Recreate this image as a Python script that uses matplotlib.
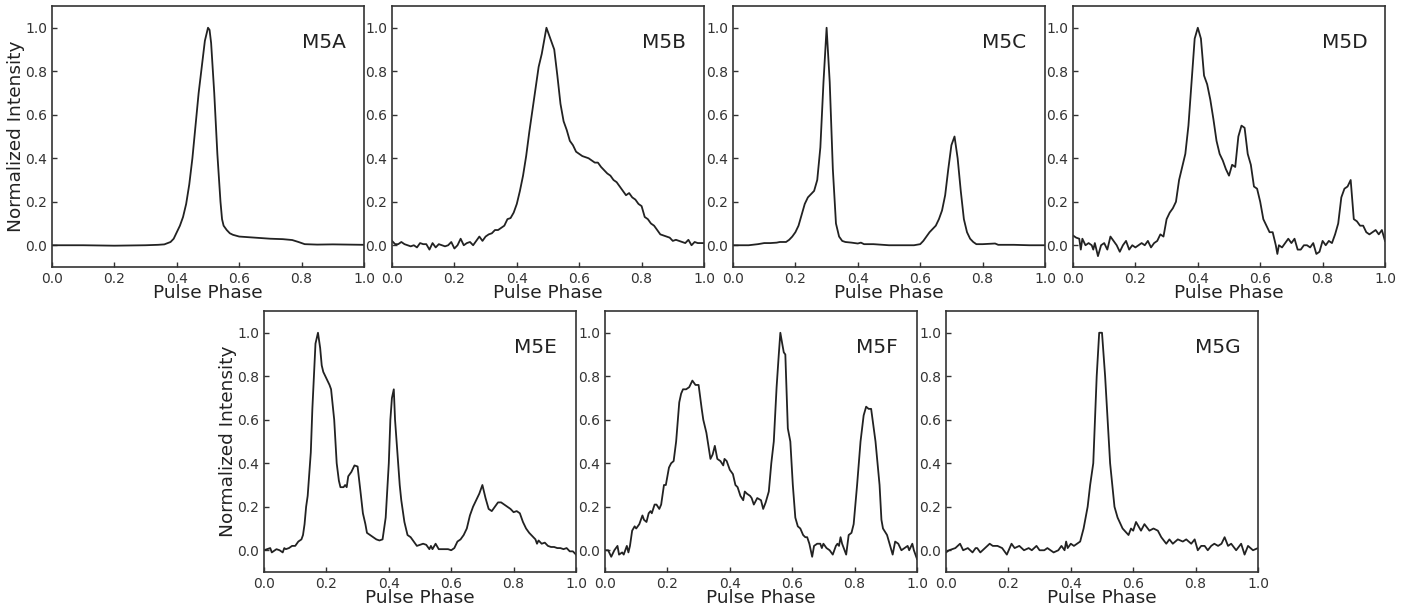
import numpy as np
import matplotlib.pyplot as plt

#%% PROFILES (phase, normalized intensity)

phase_a = [0.0, 0.1, 0.2, 0.3, 0.34, 0.36, 0.38, 0.39, 0.40, 0.41, 0.42, 0.43, 0.44, 0.45, 0.46,
           0.47, 0.48, 0.49, 0.50, 0.505, 0.51, 0.52, 0.53, 0.54, 0.545, 0.55, 0.56, 0.57, 0.58,
           0.60, 0.65, 0.70, 0.74, 0.77, 0.79, 0.81, 0.85, 0.90, 1.0]
prof_a = [0.0, 0.0, -0.002, 0.0, 0.002, 0.004, 0.015, 0.03, 0.06, 0.09, 0.13, 0.19, 0.28, 0.40, 0.55,
          0.70, 0.82, 0.94, 1.0, 0.99, 0.93, 0.70, 0.42, 0.2, 0.12, 0.09, 0.07, 0.055, 0.048,
          0.04, 0.035, 0.03, 0.028, 0.024, 0.015, 0.005, 0.003, 0.004, 0.002]

phase_b = [0.0, 0.01, 0.02, 0.03, 0.04, 0.05, 0.06, 0.07, 0.08, 0.09, 0.10, 0.11, 0.12, 0.13, 0.14,
           0.15, 0.16, 0.17, 0.18, 0.19, 0.20, 0.21, 0.22, 0.23, 0.24, 0.25, 0.26, 0.27, 0.28, 0.29,
           0.30, 0.31, 0.32, 0.33, 0.34, 0.35, 0.36, 0.37, 0.38, 0.39, 0.40, 0.41, 0.42, 0.43, 0.44,
           0.45, 0.46, 0.47, 0.48, 0.49, 0.495, 0.50, 0.51, 0.52, 0.53, 0.54, 0.55, 0.56, 0.57, 0.58,
           0.59, 0.60, 0.61, 0.62, 0.63, 0.64, 0.65, 0.66, 0.67, 0.68, 0.69, 0.70, 0.71, 0.72, 0.73,
           0.74, 0.75, 0.76, 0.77, 0.78, 0.79, 0.80, 0.81, 0.82, 0.83, 0.84, 0.85, 0.86, 0.87, 0.88,
           0.89, 0.90, 0.91, 0.92, 0.93, 0.94, 0.95, 0.96, 0.97, 0.98, 0.99, 1.0]
prof_b = [0.02, 0.005, 0.005, 0.015, 0.005, 0.0, -0.005, 0.0, -0.01, 0.01, 0.005, 0.005, -0.02, 0.01, -0.01,
          0.005, 0.0, -0.005, 0.0, 0.015, -0.015, 0.0, 0.03, 0.0, 0.01, 0.015, 0.0, 0.02, 0.04, 0.02,
          0.04, 0.05, 0.055, 0.07, 0.07, 0.08, 0.09, 0.12, 0.125, 0.15, 0.19, 0.25, 0.32, 0.41, 0.52,
          0.62, 0.72, 0.82, 0.88, 0.96, 1.0, 0.98, 0.94, 0.9, 0.78, 0.65, 0.57, 0.53, 0.48, 0.46,
          0.43, 0.42, 0.41, 0.405, 0.40, 0.39, 0.38, 0.38, 0.36, 0.345, 0.33, 0.32, 0.30, 0.29, 0.27,
          0.25, 0.23, 0.24, 0.22, 0.21, 0.19, 0.18, 0.13, 0.12, 0.10, 0.09, 0.07, 0.05, 0.045, 0.04,
          0.035, 0.02, 0.025, 0.02, 0.015, 0.01, 0.025, 0.0, 0.015, 0.01, 0.01, 0.01]

phase_c = [0.0, 0.05, 0.08, 0.10, 0.12, 0.14, 0.15, 0.17, 0.18, 0.19, 0.20, 0.21, 0.22, 0.23, 0.24,
           0.25, 0.26, 0.27, 0.28, 0.29, 0.30, 0.31, 0.32, 0.33, 0.34, 0.35, 0.36, 0.38, 0.40, 0.41,
           0.42, 0.45, 0.50, 0.55, 0.58, 0.60, 0.61, 0.62, 0.63, 0.64, 0.65, 0.66, 0.67, 0.68, 0.69,
           0.70, 0.71, 0.72, 0.73, 0.74, 0.75, 0.76, 0.77, 0.78, 0.80, 0.84, 0.85, 0.90, 0.95, 1.0]
prof_c = [0.0, 0.0, 0.005, 0.01, 0.01, 0.012, 0.015, 0.015, 0.025, 0.04, 0.06, 0.09, 0.14, 0.19, 0.22,
          0.235, 0.25, 0.30, 0.45, 0.75, 1.0, 0.75, 0.35, 0.10, 0.04, 0.02, 0.015, 0.012, 0.008, 0.012,
          0.005, 0.005, 0.0, 0.0, 0.0, 0.005, 0.02, 0.04, 0.06, 0.075, 0.09, 0.12, 0.16, 0.23, 0.35,
          0.46, 0.50, 0.40, 0.25, 0.12, 0.06, 0.03, 0.015, 0.005, 0.005, 0.008, 0.002, 0.002, 0.0, 0.0]

phase_d = [0.0, 0.01, 0.02, 0.025, 0.03, 0.04, 0.05, 0.06, 0.065, 0.07, 0.08, 0.09, 0.10, 0.11, 0.12,
           0.13, 0.14, 0.15, 0.16, 0.17, 0.18, 0.19, 0.20, 0.21, 0.22, 0.23, 0.24, 0.25, 0.26, 0.27,
           0.28, 0.29, 0.30, 0.31, 0.32, 0.33, 0.34, 0.35, 0.36, 0.37, 0.38, 0.39, 0.40, 0.41, 0.42,
           0.43, 0.44, 0.45, 0.46, 0.47, 0.48, 0.49, 0.50, 0.51, 0.52, 0.53, 0.54, 0.55, 0.56, 0.57,
           0.58, 0.59, 0.60, 0.61, 0.62, 0.63, 0.64, 0.65, 0.655, 0.66, 0.67, 0.68, 0.69, 0.70, 0.71,
           0.72, 0.73, 0.74, 0.75, 0.76, 0.77, 0.78, 0.79, 0.80, 0.81, 0.82, 0.83, 0.84, 0.85, 0.86,
           0.87, 0.88, 0.89, 0.90, 0.91, 0.92, 0.93, 0.94, 0.95, 0.96, 0.97, 0.98, 0.99, 1.0]
prof_d = [0.045, 0.035, 0.03, -0.02, 0.03, 0.0, 0.01, 0.0, -0.02, 0.01, -0.05, 0.0, 0.01, -0.02, 0.04,
          0.02, 0.0, -0.03, 0.0, 0.02, -0.02, 0.0, -0.01, 0.0, 0.01, 0.0, 0.02, -0.01, 0.01, 0.02,
          0.05, 0.04, 0.12, 0.15, 0.17, 0.20, 0.30, 0.36, 0.42, 0.55, 0.75, 0.95, 1.0, 0.95, 0.78,
          0.74, 0.67, 0.58, 0.48, 0.42, 0.39, 0.35, 0.32, 0.37, 0.36, 0.50, 0.55, 0.54, 0.42, 0.37,
          0.27, 0.26, 0.20, 0.12, 0.09, 0.06, 0.06, 0.0, -0.04, 0.0, -0.01, 0.01, 0.03, 0.01, 0.03,
          -0.02, -0.02, 0.0, 0.0, -0.01, 0.01, -0.04, -0.03, 0.02, 0.0, 0.02, 0.01, 0.05, 0.10, 0.22,
          0.26, 0.27, 0.30, 0.12, 0.11, 0.09, 0.09, 0.06, 0.05, 0.06, 0.07, 0.05, 0.07, 0.02]

phase_e = [0.0, 0.01, 0.02, 0.025, 0.03, 0.04, 0.05, 0.06, 0.065, 0.07, 0.08, 0.09, 0.10, 0.11, 0.12,
           0.125, 0.13, 0.135, 0.14, 0.145, 0.15, 0.155, 0.16, 0.165, 0.173, 0.18, 0.185, 0.19, 0.20, 0.21,
           0.215, 0.225, 0.233, 0.24, 0.245, 0.255, 0.26, 0.265, 0.27, 0.28, 0.29, 0.30, 0.31, 0.317, 0.325,
           0.33, 0.34, 0.35, 0.36, 0.37, 0.38, 0.385, 0.39, 0.40, 0.405, 0.41, 0.416, 0.42, 0.43, 0.435,
           0.44, 0.45, 0.46, 0.47, 0.48, 0.49, 0.50, 0.51, 0.52, 0.53, 0.535, 0.54, 0.55, 0.56, 0.57,
           0.58, 0.59, 0.60, 0.61, 0.62, 0.63, 0.64, 0.65, 0.66, 0.67, 0.68, 0.69, 0.70, 0.71, 0.72,
           0.73, 0.74, 0.75, 0.76, 0.77, 0.78, 0.79, 0.80, 0.81, 0.82, 0.83, 0.84, 0.85, 0.86, 0.87,
           0.875, 0.88, 0.89, 0.90, 0.91, 0.92, 0.93, 0.94, 0.95, 0.96, 0.97, 0.98, 0.99, 1.0]
prof_e = [0.0, 0.005, 0.01, -0.01, -0.005, 0.005, 0.0, -0.01, 0.01, 0.005, 0.01, 0.02, 0.02, 0.04, 0.05,
          0.07, 0.12, 0.2, 0.25, 0.35, 0.45, 0.65, 0.8, 0.95, 1.0, 0.93, 0.85, 0.82, 0.79, 0.76,
          0.74, 0.6, 0.4, 0.32, 0.29, 0.29, 0.3, 0.29, 0.34, 0.36, 0.39, 0.385, 0.26, 0.17, 0.12,
          0.08, 0.07, 0.06, 0.05, 0.045, 0.05, 0.1, 0.15, 0.4, 0.6, 0.7, 0.74, 0.6, 0.4, 0.3,
          0.23, 0.13, 0.07, 0.06, 0.04, 0.02, 0.025, 0.03, 0.025, 0.005, 0.02, 0.005, 0.03, 0.005, 0.005,
          0.005, 0.005, 0.0, 0.01, 0.04, 0.05, 0.07, 0.1, 0.16, 0.2, 0.23, 0.26, 0.3, 0.24, 0.19,
          0.18, 0.2, 0.22, 0.22, 0.21, 0.2, 0.19, 0.175, 0.18, 0.17, 0.13, 0.1, 0.08, 0.065, 0.05,
          0.03, 0.045, 0.03, 0.035, 0.02, 0.015, 0.015, 0.01, 0.01, 0.005, 0.01, -0.005, -0.005, -0.02]

phase_f = [0.0, 0.01, 0.02, 0.03, 0.04, 0.045, 0.055, 0.06, 0.07, 0.075, 0.08, 0.087, 0.095, 0.10, 0.11,
           0.12, 0.125, 0.133, 0.14, 0.146, 0.15, 0.159, 0.165, 0.174, 0.18, 0.189, 0.195, 0.205, 0.212, 0.22,
           0.228, 0.238, 0.244, 0.25, 0.26, 0.27, 0.28, 0.285, 0.29, 0.30, 0.31, 0.315, 0.325, 0.338, 0.345,
           0.352, 0.36, 0.37, 0.379, 0.383, 0.39, 0.40, 0.41, 0.418, 0.425, 0.434, 0.443, 0.448, 0.455, 0.465,
           0.47, 0.477, 0.488, 0.50, 0.507, 0.515, 0.525, 0.533, 0.541, 0.55, 0.557, 0.562, 0.568, 0.573, 0.578,
           0.586, 0.594, 0.602, 0.61, 0.618, 0.626, 0.635, 0.642, 0.648, 0.655, 0.664, 0.67, 0.68, 0.69, 0.695,
           0.70, 0.71, 0.72, 0.73, 0.74, 0.745, 0.75, 0.755, 0.76, 0.773, 0.781, 0.79, 0.797, 0.808, 0.819,
           0.829, 0.837, 0.845, 0.853, 0.867, 0.88, 0.886, 0.891, 0.904, 0.91, 0.922, 0.93, 0.94, 0.95, 0.96,
           0.97, 0.975, 0.985, 0.99, 1.0]
prof_f = [0.0, 0.0, -0.03, 0.0, 0.02, -0.02, -0.01, -0.02, 0.02, -0.01, 0.02, 0.09, 0.11, 0.10, 0.12,
          0.16, 0.14, 0.13, 0.17, 0.18, 0.17, 0.21, 0.21, 0.19, 0.21, 0.30, 0.30, 0.38, 0.40, 0.41,
          0.5, 0.68, 0.72, 0.74, 0.74, 0.75, 0.78, 0.77, 0.76, 0.76, 0.65, 0.6, 0.54, 0.42, 0.44,
          0.48, 0.42, 0.41, 0.39, 0.42, 0.41, 0.37, 0.35, 0.30, 0.29, 0.25, 0.23, 0.27, 0.26, 0.25,
          0.24, 0.21, 0.24, 0.23, 0.19, 0.22, 0.27, 0.4, 0.5, 0.75, 0.9, 1.0, 0.95, 0.91, 0.90,
          0.56, 0.5, 0.3, 0.15, 0.11, 0.1, 0.07, 0.06, 0.06, 0.03, -0.03, 0.02, 0.03, 0.03, 0.01,
          0.03, 0.01, 0.0, -0.02, 0.02, 0.03, 0.02, 0.06, 0.03, -0.02, 0.07, 0.08, 0.12, 0.3, 0.5,
          0.62, 0.66, 0.65, 0.65, 0.5, 0.3, 0.14, 0.1, 0.07, 0.04, -0.02, 0.04, 0.03, 0.0, 0.01,
          0.02, 0.0, 0.03, 0.0, -0.04]

phase_g = [0.0, 0.01, 0.03, 0.045, 0.055, 0.07, 0.085, 0.095, 0.10, 0.11, 0.125, 0.14, 0.15, 0.165, 0.18,
           0.195, 0.21, 0.22, 0.235, 0.25, 0.265, 0.275, 0.29, 0.30, 0.315, 0.325, 0.345, 0.36, 0.37, 0.38,
           0.385, 0.39, 0.40, 0.41, 0.42, 0.43, 0.441, 0.454, 0.462, 0.472, 0.483, 0.491, 0.50, 0.51, 0.518,
           0.526, 0.54, 0.55, 0.566, 0.585, 0.593, 0.60, 0.609, 0.625, 0.636, 0.652, 0.665, 0.679, 0.69, 0.706,
           0.716, 0.727, 0.743, 0.759, 0.77, 0.786, 0.797, 0.807, 0.818, 0.829, 0.839, 0.85, 0.86, 0.872, 0.883,
           0.893, 0.904, 0.914, 0.93, 0.946, 0.957, 0.968, 0.984, 1.0]
prof_g = [-0.01, 0.0, 0.01, 0.03, 0.0, 0.01, -0.01, 0.01, 0.01, -0.01, 0.01, 0.03, 0.02, 0.02, 0.01,
          -0.02, 0.03, 0.01, 0.02, 0.0, 0.01, 0.0, 0.02, 0.0, 0.0, 0.01, -0.01, 0.0, 0.02, 0.0,
          0.04, 0.01, 0.03, 0.02, 0.03, 0.04, 0.1, 0.2, 0.3, 0.4, 0.8, 1.0, 1.0, 0.8, 0.6,
          0.4, 0.2, 0.15, 0.1, 0.07, 0.1, 0.09, 0.13, 0.09, 0.12, 0.09, 0.1, 0.09, 0.06, 0.03,
          0.05, 0.03, 0.05, 0.04, 0.05, 0.03, 0.05, 0.0, 0.02, 0.02, 0.0, 0.02, 0.03, 0.02, 0.03,
          0.06, 0.02, 0.03, 0.0, 0.03, -0.02, 0.02, 0.0, 0.01]

names = ['M5A', 'M5B', 'M5C', 'M5D', 'M5E', 'M5F', 'M5G']
phases = [phase_a, phase_b, phase_c, phase_d, phase_e, phase_f, phase_g]
profiles = [prof_a, prof_b, prof_c, prof_d, prof_e, prof_f, prof_g]

#%% LAYOUT

W, H = 1422, 612
w_ax, h_ax = 312 / W, 261 / H
lefts = [52, 392, 733, 1073, 264, 605, 946]
tops = [6, 6, 6, 6, 311, 311, 311]
ink = '#222222'

plt.rcParams['font.family'] = 'DejaVu Sans'
fig = plt.figure(figsize=(W / 100, H / 100), dpi=100)

for i in range(7):
    ax = fig.add_axes([lefts[i] / W, 1 - (tops[i] / H) - h_ax, w_ax, h_ax])
    ax.plot(phases[i], profiles[i], color=ink, lw=1.3)
    ax.set_xlim(0, 1)
    ax.set_ylim(-0.1, 1.1)
    ax.set_xticks(np.arange(0, 1.01, 0.2))
    ax.set_yticks(np.arange(0, 1.01, 0.2))
    ax.xaxis.set_major_formatter(plt.FormatStrFormatter('%.1f'))
    ax.yaxis.set_major_formatter(plt.FormatStrFormatter('%.1f'))
    ax.tick_params(direction='in', labelsize=10, colors='#333333', length=3.5, width=1)
    for s in ax.spines.values():
        s.set_color('#333333')
        s.set_linewidth(1.2)
    ax.set_xlabel('Pulse Phase', fontsize=13.3, color=ink, labelpad=-1)
    if i in (0, 4):
        ax.set_ylabel('Normalized Intensity', fontsize=13.3, color=ink, labelpad=0)
    ax.text(0.87, 0.86, names[i], transform=ax.transAxes, ha='center', va='center',
            fontsize=14.5, color=ink)

fig.savefig('out.png', dpi=100)
